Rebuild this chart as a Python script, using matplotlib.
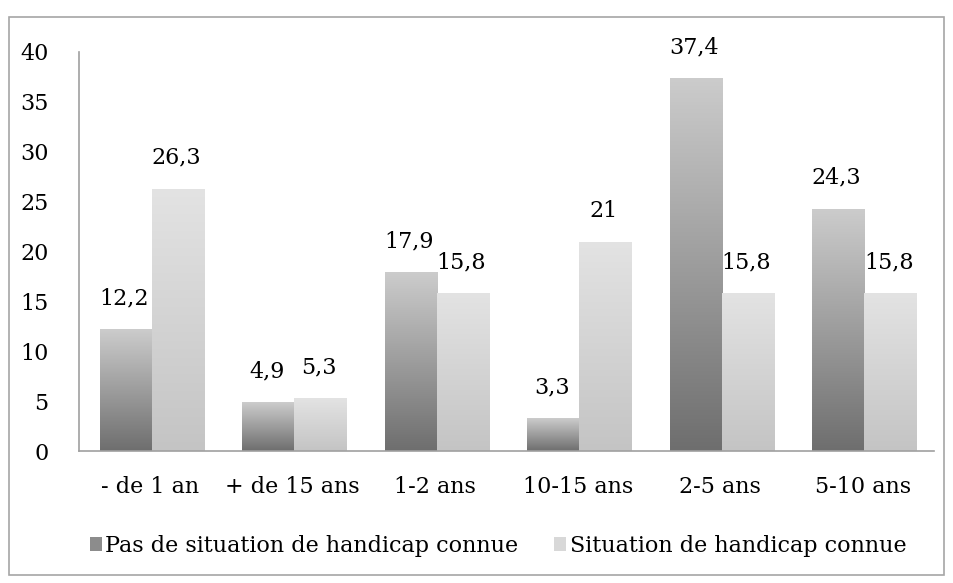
import numpy as np
import matplotlib
matplotlib.use("Agg")
from matplotlib import pyplot as plt
from matplotlib.patches import Rectangle, Patch
from matplotlib.colors import LinearSegmentedColormap

categories = ["- de 1 an", "+ de 15 ans", "1-2 ans", "10-15 ans", "2-5 ans", "5-10 ans"]
pas_handicap = [12.2, 4.9, 17.9, 3.3, 37.4, 24.3]
handicap = [26.3, 5.3, 15.8, 21, 15.8, 15.8]
labels_pas = ["12,2", "4,9", "17,9", "3,3", "37,4", "24,3"]
labels_hand = ["26,3", "5,3", "15,8", "21", "15,8", "15,8"]
series_names = ["Pas de situation de handicap connue", "Situation de handicap connue"]

plt.rcParams['font.family'] = ['DejaVu Serif']
FS = 16

dark_cmap = LinearSegmentedColormap.from_list("dark", ["#6e6e6e", "#cccccc"])
light_cmap = LinearSegmentedColormap.from_list("light", ["#c4c4c4", "#e3e3e3"])

fig = plt.figure(figsize=(9.54, 5.83), dpi=100)
ax = fig.add_axes([79/954, 1-451/583, (934-79)/954, (451-52)/583])

# outer frame
fig.patches.append(Rectangle((9/954, 8/583), 935/954, 558/583, transform=fig.transFigure,
                             fill=False, edgecolor="#a6a6a6", linewidth=1.2))

x = np.arange(len(categories))
w = 0.365

def gradient_bars(bars, cmap):
    grad = np.linspace(0, 1, 256).reshape(-1, 1)
    for b in bars:
        b.set_facecolor("none")
        b.set_edgecolor("none")
        x0, y0 = b.get_x(), b.get_y()
        im = ax.imshow(grad, cmap=cmap, origin="lower", aspect="auto",
                       extent=[x0, x0 + b.get_width(), y0, y0 + b.get_height()], zorder=2)
        im.set_clip_path(b)

b1 = ax.bar(x - w/2 + 0.01, pas_handicap, w)
b2 = ax.bar(x + w/2 + 0.01, handicap, w)
gradient_bars(b1, dark_cmap)
gradient_bars(b2, light_cmap)

for xi, v, t in zip(x - w/2, pas_handicap, labels_pas):
    ax.text(xi, v + 2.0, t, ha="center", va="bottom", fontsize=FS)
for xi, v, t in zip(x + w/2, handicap, labels_hand):
    ax.text(xi, v + 2.0, t, ha="center", va="bottom", fontsize=FS)

ax.set_xlim(-0.5, len(categories) - 0.5)
ax.set_ylim(0, 40)
ax.set_yticks(range(0, 41, 5))
ax.set_xticks(x)
ax.set_xticklabels(categories)
ax.tick_params(axis="both", length=0, labelsize=FS)
ax.tick_params(axis="y", pad=22)
ax.tick_params(axis="x", pad=18)
for s in ["top", "right"]:
    ax.spines[s].set_visible(False)
for s in ["left", "bottom"]:
    ax.spines[s].set_color("#a0a0a0")
    ax.spines[s].set_linewidth(1.2)

# legend
handles = [Patch(facecolor="#8c8c8c", edgecolor="none"), Patch(facecolor="#d8d8d8", edgecolor="none")]
fig.legend(handles, series_names, loc="center", bbox_to_anchor=(0.522, 1-546/583), ncol=2,
           frameon=False, fontsize=FS, handlelength=0.55, handleheight=0.55,
           handletextpad=0.15, columnspacing=1.6)

fig.savefig("out.png", dpi=100)
